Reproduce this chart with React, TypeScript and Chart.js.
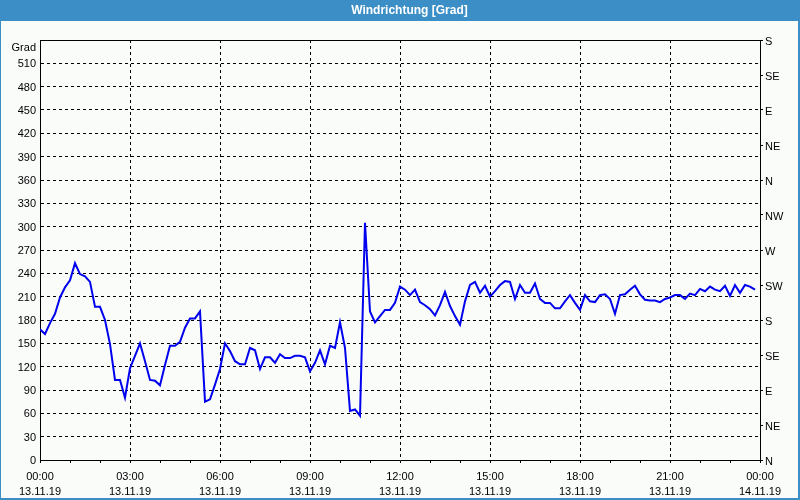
import React, { useEffect, useRef } from 'react';
import { Chart, registerables } from 'chart.js';

Chart.register(...registerables);

const TITLE = 'Windrichtung [Grad]';
const Y_UNIT = 'Grad';
const DATE_START = '13.11.19';
const DATE_END = '14.11.19';
const INTERVAL_MIN = 10;
const X_MAX_MIN = 1440;
const X_TICK_STEP = 60;
const X_LABEL_STEP = 180;
const Y_MAX = 540;
const Y_STEP = 30;
const COMPASS_STEP = 45;
const COMPASS_LABELS = ['N', 'NE', 'E', 'SE', 'S', 'SW', 'W', 'NW', 'N', 'NE', 'E', 'SE', 'S'];

// wind direction in degrees, one value every 10 minutes from 13.11.19 00:00
const DIRECTION_VALUES = [
  168, 162, 176, 188, 209, 222, 231, 253, 239, 236, 229, 197,
  197, 180, 149, 103, 103, 80, 118, 134, 150, 127, 103, 102,
  96, 122, 147, 147, 152, 170, 182, 182, 191, 75, 78, 97,
  117, 150, 140, 127, 123, 123, 144, 141, 117, 132, 132, 125,
  136, 131, 131, 134, 134, 132, 114, 125, 141, 123, 147, 144,
  177, 144, 63, 65, 57, 305, 191, 177, 185, 193, 193, 202,
  223, 219, 212, 219, 203, 199, 194, 186, 199, 216, 198, 185,
  174, 204, 225, 229, 215, 224, 210, 217, 225, 230, 229, 207,
  225, 215, 215, 227, 207, 202, 202, 195, 195, 204, 212, 202,
  193, 212, 204, 203, 212, 213, 207, 188, 212, 213, 219, 224,
  213, 206, 205, 205, 203, 207, 209, 212, 212, 207, 214, 212,
  220, 217, 223, 219, 217, 224, 211, 225, 215, 225, 223, 219,
];

const BLUE_FRAME = '#3c8fc6';
const PANEL_BG = '#fafcfa';
const LINE_COLOR = '#0000ee';
const FONT = 'Liberation Sans';

const framePlugin = {
  id: 'frame',
  beforeDraw(chart: any) {
    const { ctx, width, height } = chart;
    ctx.save();
    ctx.fillStyle = BLUE_FRAME;
    ctx.fillRect(0, 0, width, height);
    ctx.fillStyle = PANEL_BG;
    ctx.fillRect(1, 21, width - 3, height - 23);
    ctx.restore();
  },
  afterDraw(chart: any) {
    const { ctx, chartArea } = chart;
    const y = Math.round(chartArea.top) + 0.5;
    ctx.save();
    ctx.strokeStyle = '#000';
    ctx.lineWidth = 1;
    ctx.beginPath();
    ctx.moveTo(chartArea.left, y);
    ctx.lineTo(chartArea.right + 1, y);
    ctx.stroke();
    ctx.restore();
  },
};

function pad2(n: number) {
  return n < 10 ? '0' + n : String(n);
}

export default function App() {
  const canvasRef = useRef<HTMLCanvasElement | null>(null);

  useEffect(() => {
    if (!canvasRef.current) return;
    const points = DIRECTION_VALUES.map((v, i) => ({ x: i * INTERVAL_MIN, y: v }));

    const chart = new Chart(canvasRef.current, {
      type: 'line',
      data: {
        datasets: [
          {
            label: TITLE,
            data: points,
            borderColor: LINE_COLOR,
            borderWidth: 2,
            pointRadius: 0,
            tension: 0,
            fill: false,
          },
        ],
      },
      plugins: [framePlugin],
      options: {
        animation: false,
        responsive: false,
        maintainAspectRatio: false,
        layout: { padding: { top: 40, left: 0, right: 0, bottom: 0 } },
        plugins: {
          legend: { display: false },
          title: { display: false },
          tooltip: { enabled: false },
        },
        font: { family: FONT, size: 11 },
        scales: {
          x: {
            type: 'linear',
            position: 'bottom',
            min: 0,
            max: X_MAX_MIN,
            afterFit(scale: any) {
              scale.height = 40;
            },
            ticks: {
              stepSize: X_TICK_STEP,
              autoSkip: false,
              maxRotation: 0,
              minRotation: 0,
              padding: 6,
              color: '#000',
              font: { family: FONT, size: 11, lineHeight: '15px' },
              callback: (value: any) => {
                const v = Number(value);
                if (v % X_LABEL_STEP !== 0) return '';
                const hh = pad2(Math.floor(v / 60) % 24);
                return [hh + ':00', v >= X_MAX_MIN ? DATE_END : DATE_START];
              },
            },
            grid: {
              color: (ctx: any) =>
                ctx.tick && ctx.tick.value % X_LABEL_STEP === 0 ? '#000' : 'rgba(0,0,0,0)',
              lineWidth: 1,
              drawTicks: true,
              tickLength: 3,
              tickColor: '#000',
            },
            border: { display: true, color: '#000', width: 1, dash: [3, 3] },
          },
          y: {
            type: 'linear',
            position: 'left',
            min: 0,
            max: Y_MAX,
            afterFit(scale: any) {
              scale.width = 40;
            },
            ticks: {
              stepSize: Y_STEP,
              autoSkip: false,
              padding: 4,
              labelOffset: 1,
              color: '#000',
              font: { family: FONT, size: 11 },
              callback: (value: any) => (Number(value) === Y_MAX ? ['', Y_UNIT] : String(value)),
            },
            grid: {
              color: '#000',
              lineWidth: 1,
              drawTicks: false,
            },
            border: { display: true, color: '#000', width: 1, dash: [3, 3] },
          },
          y2: {
            type: 'linear',
            position: 'right',
            min: 0,
            max: Y_MAX,
            afterFit(scale: any) {
              scale.width = 40;
            },
            ticks: {
              stepSize: COMPASS_STEP,
              autoSkip: false,
              padding: 2,
              labelOffset: 2,
              color: '#000',
              font: { family: FONT, size: 11 },
              callback: (value: any) => COMPASS_LABELS[Math.round(Number(value) / COMPASS_STEP)] ?? '',
            },
            grid: {
              drawOnChartArea: false,
              drawTicks: true,
              tickLength: 3,
              tickColor: '#000',
            },
            border: { display: true, color: '#000', width: 1 },
          },
        },
      } as any,
    });

    return () => chart.destroy();
  }, []);

  return (
    <div style={{ position: 'fixed', left: 0, top: 0, width: 800, height: 500 }}>
      <canvas ref={canvasRef} width={800} height={500} style={{ position: 'absolute', left: 0, top: 0, width: 800, height: 500 }} />
      <div
        style={{
          position: 'absolute',
          left: 0,
          top: 0,
          width: 800,
          height: 21,
          boxSizing: 'border-box',
          paddingLeft: 19,
          textAlign: 'center',
          lineHeight: '21px',
          color: '#fff',
          fontFamily: FONT,
          fontWeight: 'bold',
          fontSize: 12,
        }}
      >
        {TITLE}
      </div>
    </div>
  );
}
